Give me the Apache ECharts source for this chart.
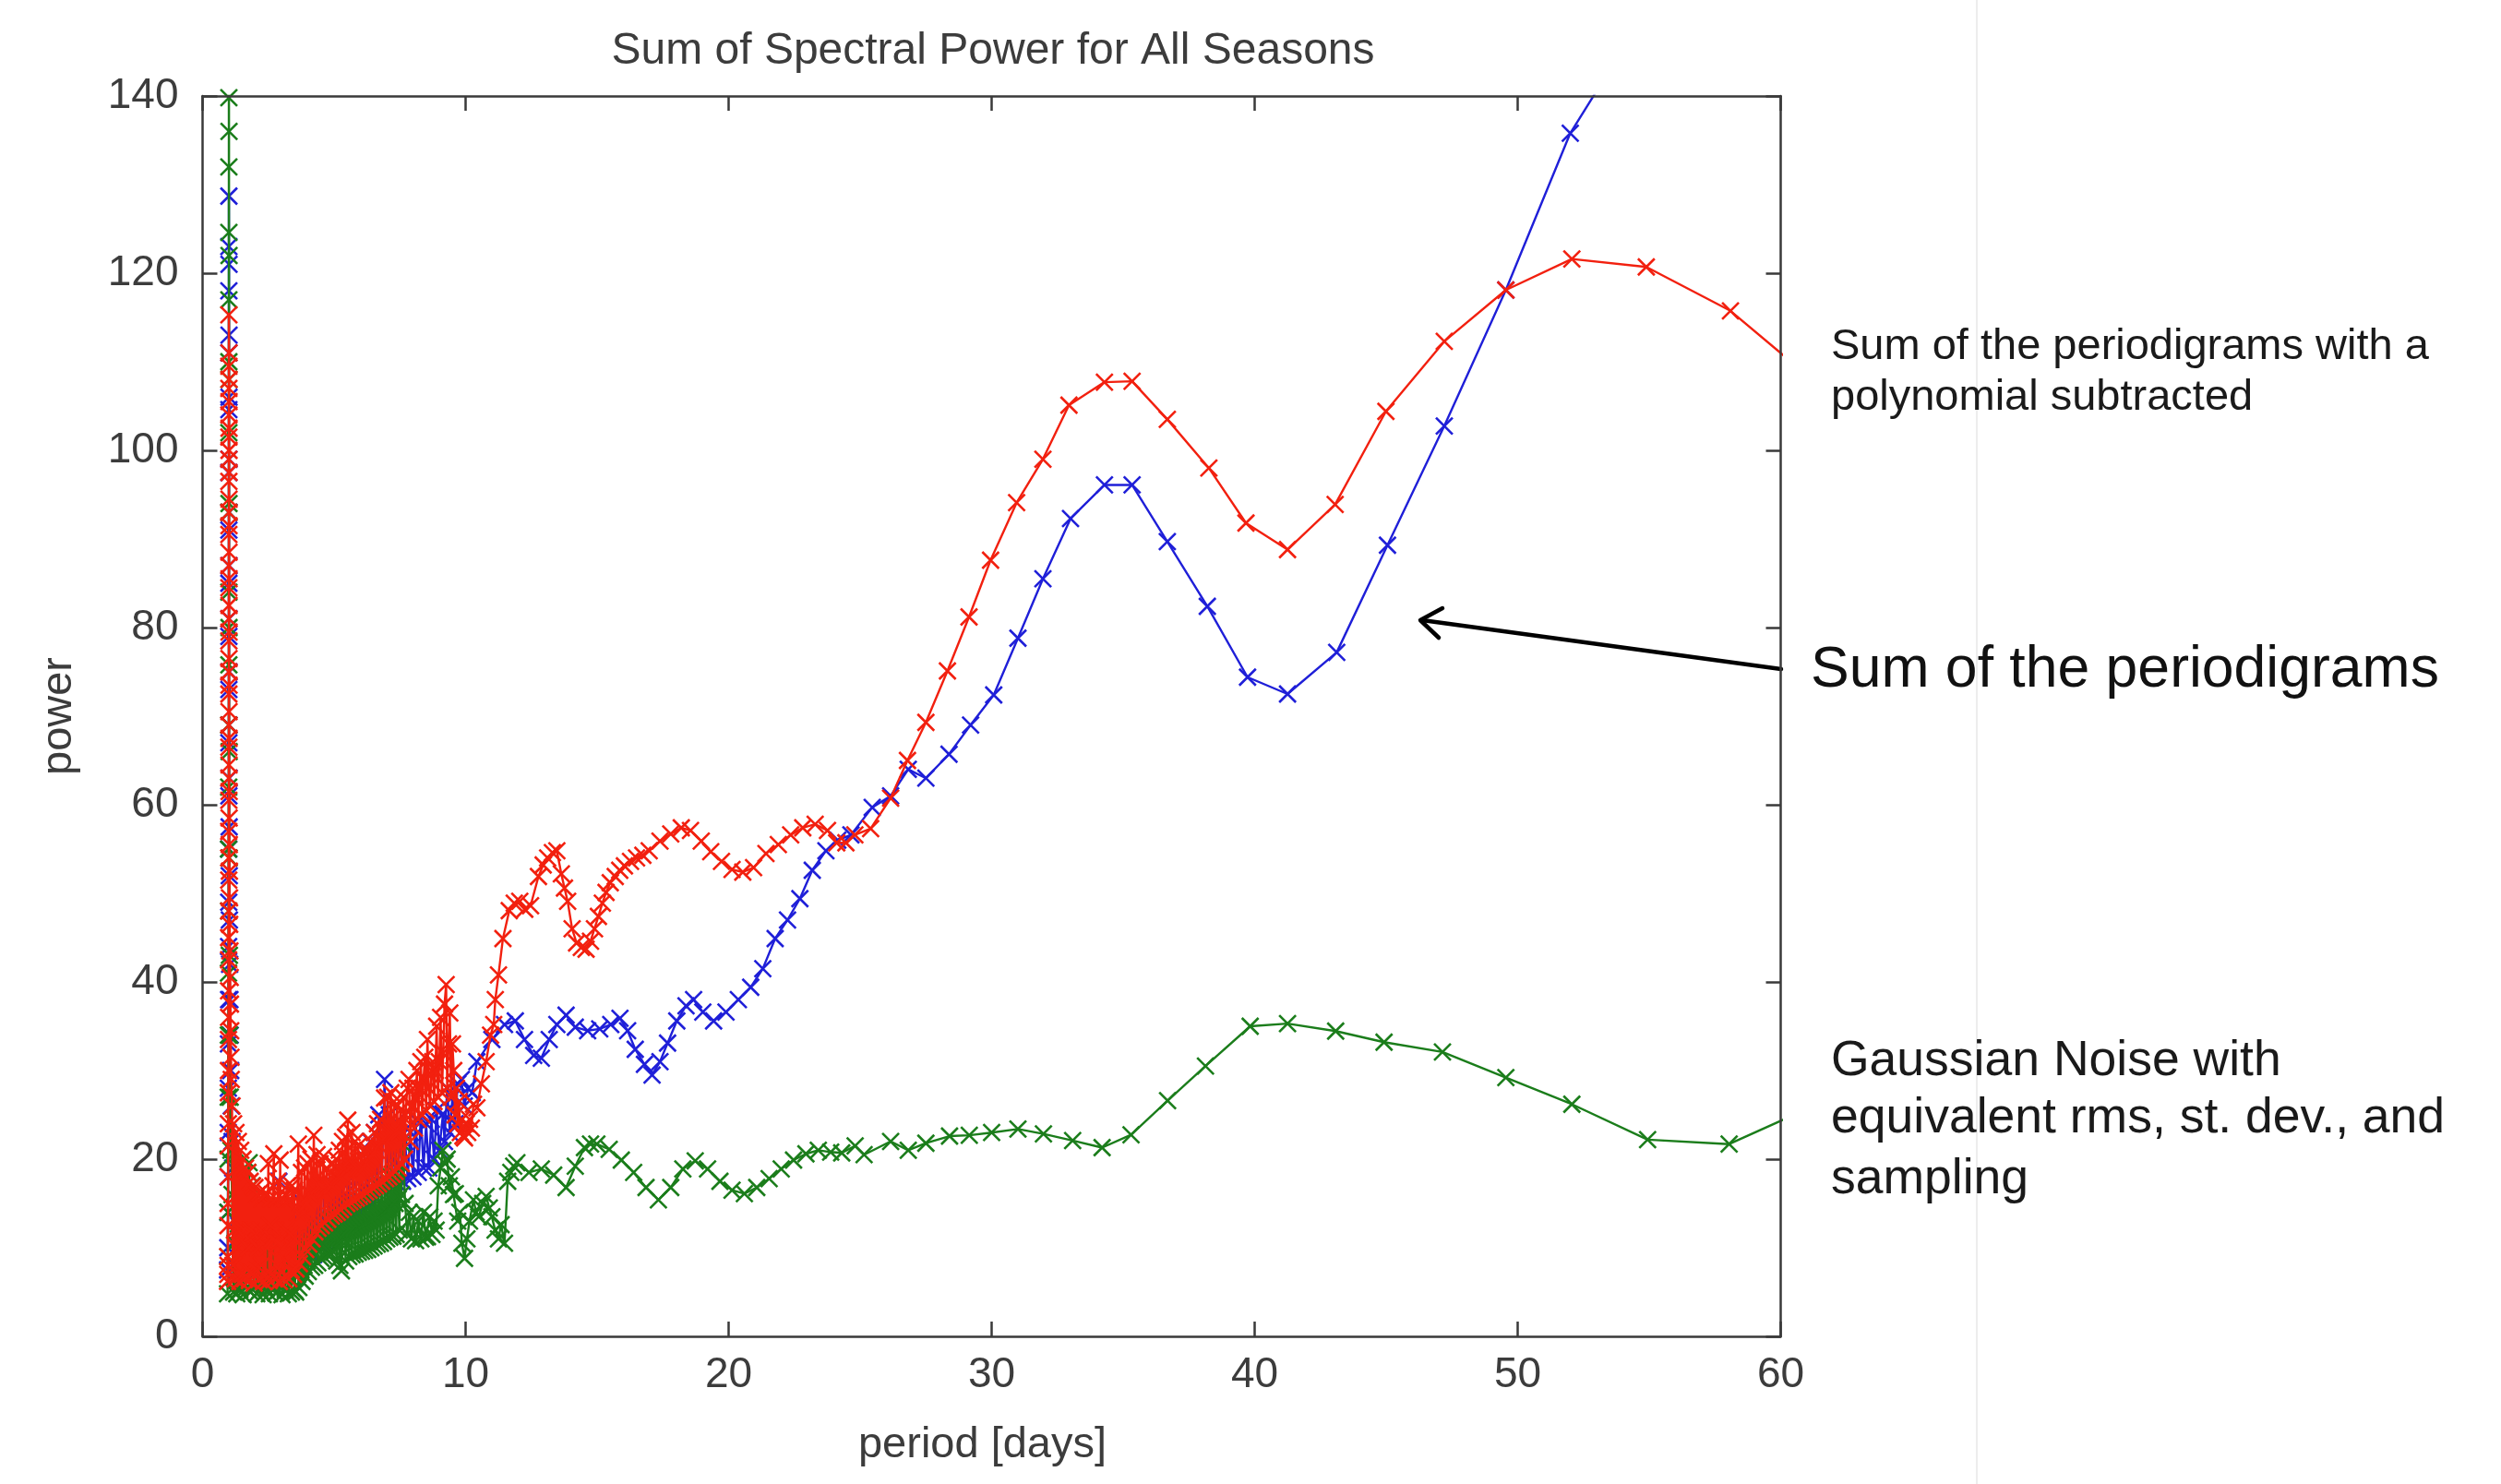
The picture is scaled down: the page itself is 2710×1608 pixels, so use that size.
<!DOCTYPE html>
<html>
<head>
<meta charset="utf-8">
<script src="https://cdn.jsdelivr.net/npm/echarts@6/dist/echarts.min.js"></script>
<style>
html,body{margin:0;padding:0;background:#fff;}
#chart{width:2710px;height:1608px;}
</style>
</head>
<body>
<div id="chart"></div>
<script>
// ---- data: [period (days), power] ----
const titleText = "Sum of Spectral Power for All Seasons";
const xTicks = [0, 10, 20, 30, 40, 50, 60];
const yTicks = [0, 20, 40, 60, 80, 100, 120, 140];

// Sum of the periodigrams with a polynomial subtracted (red)
const redPoints = [
[0.95,6.2],[0.955,9],[0.96,7],[0.965,12.5],[0.97,8],[0.97,15],[0.975,18],[0.975,21.5],[0.98,24],[0.98,27.5],[0.985,30],[0.985,33.5],[0.99,36],[0.99,39],[0.99,42.5],[0.99,45],[0.995,48],[0.995,51.5],[0.995,54],[0.995,57],
[1.0,60.5],[1.0,63],[1.0,66.5],[1.0,69],[1.0,72.5],[1.0,75],[1.0,78.5],[1.0,81],[1.0,84.5],[1.0,87],[1.0,90.5],[1.0,93],[1.0,96.5],[1.0,99],[1.0,101.5],[1.0,104],[1.0,107],[1.0,109.5],[1.0,115.3],
[1.005,111],[1.005,108],[1.005,105.5],[1.005,102.5],[1.005,100],[1.005,97.5],[1.005,94.5],[1.005,91.5],[1.005,88.5],[1.005,85.5],[1.005,82.5],[1.005,79.5],[1.005,76.5],[1.005,73.5],[1.005,70.5],[1.005,67.5],[1.005,64.5],[1.01,61.5],[1.01,58.5],[1.015,55.5],[1.02,52.5],[1.025,49.5],[1.03,46.5],[1.04,43.5],[1.05,40.5],[1.06,37.5],[1.07,34.5],[1.08,31.5],[1.09,29],
[1.12,26],[1.15,8],[1.18,24],[1.21,12],[1.24,6.5],[1.27,23],[1.3,10],[1.33,7],[1.36,22],[1.39,12],[1.42,6.2],[1.45,21],[1.48,10.5],[1.51,7],[1.54,20],[1.57,12],[1.6,6.5],[1.63,19],[1.66,11],[1.69,7.5],[1.72,18.5],[1.75,10],[1.78,6.3],[1.81,17.5],[1.84,12],[1.87,7.2],[1.9,17],[1.93,10.5],[1.96,6],[1.99,16.8],
[2.02,11.5],[2.05,7.5],[2.08,16],[2.11,10],[2.14,6.4],[2.17,16.2],[2.2,12],[2.23,8],[2.26,15.5],[2.29,10.5],[2.32,6.2],[2.35,16],[2.38,11.5],[2.41,7],[2.44,16.1],[2.47,10],[2.5,19.5],[2.53,6.3],[2.56,12.5],[2.59,15.5],[2.62,7],[2.65,11],[2.68,17],[2.71,20.6],[2.74,6.5],[2.77,12],[2.8,15.5],[2.83,8],[2.86,17.5],[2.89,10.5],[2.92,6.2],[2.95,19.9],[2.98,11],
[3.01,7.2],[3.04,15.5],[3.07,10],[3.1,6.4],[3.13,16],[3.16,12],[3.19,8.5],[3.22,17],[3.25,10.5],[3.28,6.5],[3.31,15.5],[3.34,11.5],[3.37,7.5],[3.4,17],[3.43,10],[3.46,7],[3.49,16.5],[3.52,11],[3.55,7.6],
[3.6,14],[3.64,21.7],[3.68,8.2],[3.72,15],[3.76,18.5],[3.8,9],[3.84,14],[3.88,19],[3.92,9.8],[3.96,15],[4.0,19.5],[4.04,10.4],[4.08,16],[4.12,20],[4.16,11],[4.2,17],[4.23,22.7],[4.27,11.8],[4.31,16.5],[4.35,20.5],[4.39,12.2],[4.43,17],[4.47,19.5],[4.51,12.5],[4.55,17],[4.6,20.3],[4.64,12.8],[4.68,16.5],[4.72,19],[4.76,13.2],[4.8,17],[4.84,18.5],[4.88,13.6],[4.92,17],[4.96,19.5],
[5.0,13.8],[5.04,17.5],[5.08,20],[5.12,14],[5.16,18],[5.2,21],[5.24,14.3],[5.28,18],[5.32,22],[5.36,14.6],[5.4,19],[5.44,22.5],[5.48,15],[5.52,24.4],[5.56,19],[5.6,15.2],[5.64,20],[5.68,23],[5.72,15.4],[5.76,19.5],[5.8,22],[5.84,15.6],[5.88,19],[5.92,21.5],[5.96,15.8],
[6.0,19],[6.04,20.5],[6.08,16],[6.12,19],[6.16,21],[6.2,16.3],[6.24,19.5],[6.28,21],[6.33,16.5],[6.37,20],[6.41,22],[6.45,16.8],[6.49,20.5],[6.53,23],[6.57,17],[6.61,21],[6.65,24],[6.69,17.2],[6.73,21.5],[6.77,24.5],[6.81,17.5],[6.85,22],[6.92,26.9],[6.96,17.8],
[7.0,22.5],[7.04,27],[7.08,18],[7.12,23],[7.16,27.5],[7.2,18.3],[7.24,23],[7.28,26.5],[7.32,18.6],[7.36,23],[7.4,26],[7.44,19],[7.48,23],[7.52,25.5],[7.56,19.5],[7.6,24],[7.64,27],[7.68,20],[7.72,25],[7.78,28],[7.85,29],[7.9,22],[7.95,26],
[8.0,28],[8.05,23.5],[8.1,27],[8.15,30],[8.2,24.5],[8.25,28],[8.3,31],[8.35,25],[8.4,29],[8.45,31.5],[8.5,25.5],[8.55,33.5],[8.6,28],[8.65,26],[8.7,30],[8.75,31],[8.8,26.5],[8.85,30],[8.9,35],[8.95,27],
[9.0,31],[9.05,36],[9.1,27.5],[9.15,32],[9.2,37.5],[9.26,39.7],[9.3,28],[9.35,33],[9.4,36.5],[9.45,27],[9.5,33],[9.55,30],[9.6,25],[9.65,28],[9.7,24],[9.75,26.5],[9.8,23],[9.85,24.5],[9.9,22.6],[9.96,22.4],
[10.02,24],[10.08,23],[10.15,24.5],[10.22,23.5],[10.3,26.2],[10.43,25.8],[10.6,28.5],[10.78,31],[10.95,34],[11.07,35.2],[11.13,38],[11.25,40.8],[11.42,44.9],[11.66,48.05],[11.85,48.9],[12.06,49.1],[12.25,48.2],[12.47,48.6],[12.77,51.9],[12.95,53.2],[13.12,54.0],[13.3,54.6],[13.47,54.8],[13.64,52.2],[13.76,50.6],[13.88,49.1],[14.05,46.0],[14.22,44.4],[14.4,43.9],[14.58,43.7],[14.75,44.6],[14.9,46],
[15.05,47.4],[15.2,48.9],[15.34,50.1],[15.5,51.2],[15.69,51.9],[15.86,52.6],[16.04,53.1],[16.27,53.6],[16.5,54.0],[16.74,54.3],[16.98,54.8],[17.39,55.9],[17.8,56.7],[18.2,57.4],[18.55,57.1],[18.96,55.9],[19.32,54.7],[19.73,53.6],[20.13,52.7],[20.54,52.4],[20.95,52.9],[21.42,54.5],[21.89,55.5],[22.36,56.6],[22.82,57.4],[23.29,57.8],[23.76,57.1],[24.11,55.7],[24.46,55.7],[24.8,56.6],
[25.4,57.3],[26.16,60.75],[26.8,65.0],[27.5,69.3],[28.32,75.1],[29.14,81.2],[29.96,87.6],[30.95,94.1],[31.95,99.0],[32.94,105.1],[34.29,107.7],[35.34,107.8],[36.68,103.5],[38.26,98.0],[39.67,91.8],[41.25,88.8],[43.06,93.9],[44.99,104.4],[47.21,112.3],[49.55,118.1],[52.06,121.6],[54.89,120.7],[58.09,115.75],[61.4,107.5]
];

// Sum of the periodigrams (blue)
const bluePoints = [
[0.95,7.5],[0.96,10],[0.965,14],[0.97,18],[0.975,23],[0.98,28],[0.985,33],[0.99,38],[0.99,44],[0.995,49],[0.995,55],[1.0,61],[1.0,67],[1.0,73],[1.0,79],[1.0,85],[1.0,91],[1.0,97.5],[1.0,104.6],[1.0,111],[1.0,118],[1.0,123],[1.0,128.7],
[1.005,121],[1.005,113],[1.005,106],[1.005,99],[1.005,93],[1.005,87],[1.005,81],[1.005,75],[1.005,69],[1.01,63],[1.01,57.5],[1.015,52],[1.02,47],[1.03,42],[1.04,38],[1.05,34],[1.07,30],[1.09,26],[1.12,22],[1.15,19],
[1.2,8],[1.26,13],[1.32,7.5],[1.38,12.5],[1.44,8.2],[1.5,13],[1.56,7.4],[1.62,12.5],[1.68,8.5],[1.74,13],[1.8,7.6],[1.86,12.2],[1.92,8],[1.98,12.6],[2.04,7.3],[2.1,13],[2.16,8.4],[2.22,12.2],[2.28,7.7],[2.34,13],[2.4,8.1],[2.46,12.5],[2.52,7.5],[2.58,12.8],[2.64,8.6],[2.7,13],[2.76,7.9],[2.82,13.5],[2.9,17.5],[2.96,8.4],[3.02,12.5],[3.08,8],[3.14,13],[3.2,8.7],[3.26,12],[3.32,8.2],[3.38,13.5],[3.44,8.8],[3.5,13.2],
[3.58,8.5],[3.66,13.8],[3.74,8.8],[3.82,15],[3.9,9],[3.98,14.5],[4.06,9.4],[4.14,16],[4.22,9.2],[4.3,16.8],[4.38,9.8],[4.46,17],[4.54,10.2],[4.62,15.8],[4.7,10.5],[4.78,16.5],[4.86,10.8],[4.94,17],[5.02,11],[5.1,16.6],[5.18,13.7],[5.26,17.5],[5.34,12],[5.42,16],[5.5,12.5],[5.58,18],[5.66,13],[5.74,17],[5.82,13.5],[5.9,15.4],[5.98,14],
[6.06,19],[6.14,14.2],[6.22,20],[6.3,14.6],[6.38,22],[6.46,15.2],[6.54,23],[6.62,15.5],[6.7,25],[6.8,16.5],[6.92,29],[7.0,16.8],[7.1,25],[7.2,17],[7.3,24],[7.4,17.3],[7.5,22.5],[7.6,17.5],[7.7,22],[7.8,17.8],[7.9,23],
[8.0,18],[8.1,24.5],[8.2,18.5],[8.3,25],[8.4,19],[8.5,24],[8.6,19],[8.7,24.5],[8.8,20],[8.9,25.5],[9.0,21],[9.14,25.1],[9.2,22],[9.3,28],[9.4,23],[9.5,27],[9.6,24],[9.7,28.5],[9.84,29],[9.95,26],[10.1,28],[10.25,27.5],
[10.43,31.0],[11.0,33.5],[11.48,35.2],[11.89,35.6],[12.24,33.5],[12.59,31.7],[12.88,31.4],[13.18,33.5],[13.47,35.2],[13.82,36.25],[14.17,34.9],[14.64,34.5],[15.1,34.7],[15.52,35.2],[15.87,35.9],[16.16,34.5],[16.45,32.4],[16.8,30.7],[17.09,29.5],[17.39,31.0],[17.68,33.1],[18.03,35.6],[18.38,37.3],[18.67,38.0],[19.02,36.6],[19.43,35.6],[19.9,36.6],
[20.37,38.0],[20.84,39.4],[21.3,41.5],[21.77,44.9],[22.24,47.0],[22.71,49.4],[23.18,52.6],[23.7,54.8],[24.15,56.0],[24.65,56.6],[25.46,59.7],[26.16,61.0],[26.83,64.0],[27.5,63.0],[28.38,65.7],[29.2,69.0],[30.08,72.4],[31.0,78.8],[31.95,85.5],[33.0,92.3],[34.29,96.1],[35.34,96.1],[36.68,89.7],[38.2,82.4],[39.73,74.4],[41.25,72.5],[43.12,77.2],[45.05,89.3],[47.21,102.75],[49.55,118.1],[52.0,135.8],[54.9,149.6]
];

// Gaussian noise with equivalent rms, st. dev., and sampling (green)
const greenPoints = [
[0.95,4.8],[0.96,9],[0.965,14],[0.97,20],[0.975,27],[0.98,34],[0.985,41],[0.99,48],[0.99,55],[0.995,62],[0.995,69],[1.0,75.8],[1.0,84],[1.0,93],[1.0,102],[1.0,110],[1.0,117],[1.0,124.6],[1.0,132],[1.0,139.8],[1.0,147],
[1.005,136],[1.005,122],[1.005,108],[1.005,94],[1.005,80],[1.01,66],[1.01,54],[1.02,43],[1.03,34],[1.05,27],[1.08,21],[1.12,16],
[1.18,5],[1.24,10.5],[1.3,4.8],[1.36,11],[1.42,5.3],[1.48,10.5],[1.54,4.7],[1.6,12],[1.66,5.5],[1.72,18.5],[1.77,19.6],[1.82,5],[1.88,17],[1.94,5.6],[2.0,11],[2.06,4.8],[2.12,10.5],[2.18,5.2],[2.24,10],[2.3,4.7],[2.36,10.5],[2.42,5.4],[2.48,10],[2.54,4.8],[2.6,10.5],[2.66,5.5],[2.72,10],[2.78,4.9],[2.84,10.5],[2.9,5.2],[2.96,10],[3.02,4.7],[3.08,10.2],[3.14,5.3],[3.2,9.8],[3.26,4.8],[3.32,9.5],[3.38,5],[3.44,9.5],[3.5,5.2],
[3.54,5],[3.58,9.5],[3.62,7],[3.66,5.5],[3.7,10],[3.74,7.5],[3.78,6.2],[3.82,10.5],[3.86,8],[3.9,6.8],[3.94,11],[3.98,8.5],[4.02,7.3],[4.06,11.2],[4.1,9],[4.14,7.8],[4.18,11.5],[4.22,9.5],[4.26,8],[4.3,12],[4.34,10],[4.38,8.3],[4.42,12.2],[4.46,10.2],[4.5,8.8],[4.54,12.5],[4.58,10.5],[4.62,9],[4.66,12.8],[4.7,11],[4.74,9.2],[4.78,13],[4.82,11.2],[4.86,9.4],[4.9,13.2],[4.94,11.3],[4.98,9.5],
[5.02,13.4],[5.06,11],[5.1,8.5],[5.14,13.5],[5.18,11],[5.22,8],[5.26,13.8],[5.28,7.4],[5.32,11],[5.36,14],[5.4,11.5],[5.44,8.5],[5.48,14.2],[5.52,12],[5.56,9],[5.6,14.4],[5.64,12],[5.68,9.2],[5.72,14.6],[5.76,12.2],[5.8,9.3],[5.84,15],[5.88,12.3],[5.92,9.5],[5.96,15.2],
[6.0,12.5],[6.04,9.6],[6.08,15.4],[6.12,12.7],[6.16,9.7],[6.2,15.6],[6.24,13],[6.28,9.8],[6.32,16],[6.36,13.2],[6.4,10],[6.44,16.2],[6.48,13.4],[6.52,10.2],[6.56,16.5],[6.6,13.6],[6.64,10.4],[6.68,16.8],[6.72,13.8],[6.76,10.5],[6.8,17],[6.84,14],[6.88,10.7],[6.92,17.3],[6.96,14.2],
[7.0,11],[7.04,17.6],[7.08,14.5],[7.12,11.2],[7.16,18],[7.2,14.8],[7.24,11.3],[7.28,18.5],[7.32,15],[7.36,11.5],[7.4,19],[7.44,15.5],[7.48,12],[7.52,19.5],[7.56,16],[7.62,21.7],
[7.7,15],[7.78,11.6],[7.86,14],[7.94,11],[8.02,13.5],[8.1,10.8],[8.2,13],[8.3,11],[8.4,14],[8.48,11.2],[8.55,11.25],[8.64,13.5],[8.72,11.5],[8.8,13],[8.88,12],[8.96,17],[9.05,19],[9.14,21.0],[9.22,19.5],[9.3,20],[9.38,17],[9.46,18],[9.54,16],[9.61,16.1],[9.7,13],[9.78,14],[9.86,10.5],[9.96,8.8],
[10.05,11],[10.15,13],[10.3,15.4],[10.4,14],[10.5,13.5],[10.65,15],[10.78,15.8],[10.9,14.5],[11.0,13.5],[11.12,12],[11.25,11],[11.35,12.6],[11.48,10.5],[11.6,17.5],[11.72,18.5],[11.83,19.2],[11.95,19.6],
[12.41,18.5],[12.88,18.9],[13.35,18.2],[13.82,16.8],[14.17,19.2],[14.52,21.3],[14.75,21.7],[14.99,21.7],[15.46,21.1],[15.92,19.9],[16.39,18.5],[16.86,16.8],[17.33,15.4],[17.8,16.8],[18.26,18.9],[18.73,19.8],[19.2,18.9],[19.67,17.5],[20.13,16.5],[20.6,16.1],[21.07,16.8],[21.54,17.8],[22.0,18.9],[22.47,19.9],[22.94,20.6],[23.41,21.0],[23.88,20.8],[24.3,20.7],[24.81,21.5],
[25.15,20.5],[26.16,22.0],[26.83,21.0],[27.5,21.8],[28.4,22.6],[29.15,22.7],[30.0,23.0],[31.0,23.4],[31.97,22.85],[33.08,22.1],[34.2,21.3],[35.3,22.75],[36.69,26.6],[38.13,30.5],[39.83,35.0],[41.25,35.3],[43.08,34.45],[44.92,33.2],[47.14,32.1],[49.55,29.2],[52.06,26.2],[54.94,22.2],[58.04,21.7],[61.4,26.2]
];

const seriesNames = ["Sum of the periodigrams", "Gaussian Noise with equivalent rms, st. dev., and sampling", "Sum of the periodigrams with a polynomial subtracted"];
const seriesColors = ["#1f1fd8", "#1b7d1b", "#f2200f"];

// ---- chart ----
const FONT = "'Liberation Sans', Arial, Helvetica, sans-serif";
const AXC = "#3a3a3a";
const crossSym = 'path://M0,0L10,10M0,10L10,0';

function mkSeries(name, pts, color, z) {
  return {
    name: name, type: 'line', data: pts, z: z,
    xAxisIndex: 0, yAxisIndex: 0,
    symbol: crossSym, symbolSize: 18, showSymbol: true, clip: true,
    lineStyle: { color: color, width: 2.4 },
    itemStyle: { color: color, borderColor: color, borderWidth: 2.6 },
    emphasis: { disabled: true }, silent: true, animation: false
  };
}

const chart = echarts.init(document.getElementById('chart'), null, { renderer: 'canvas' });
const axisLineStyle = { show: true, onZero: false, lineStyle: { color: AXC, width: 2.5 } };
const tickStyle = { show: true, inside: true, length: 16, lineStyle: { color: AXC, width: 2.5 } };

chart.setOption({
  backgroundColor: '#ffffff',
  animation: false,
  title: {
    text: titleText, left: 1071, top: 51, textAlign: 'center', textVerticalAlign: 'middle',
    textStyle: { fontFamily: FONT, fontSize: 48, fontWeight: 'normal', color: '#3c3c3c' }
  },
  grid: { left: 219.5, right: 780.5, top: 104, bottom: 160, containLabel: false },
  xAxis: [
    { type: 'value', min: xTicks[0], max: xTicks[xTicks.length - 1], interval: 10, position: 'bottom', z: 10,
      axisLine: axisLineStyle, axisTick: tickStyle, splitLine: { show: false },
      axisLabel: { fontFamily: FONT, fontSize: 46, color: '#3c3c3c', margin: 19 },
      name: 'period [days]', nameLocation: 'middle', nameGap: 95,
      nameTextStyle: { fontFamily: FONT, fontSize: 47, color: '#3c3c3c', padding: [0, 20, 0, 0] } },
    { type: 'value', min: xTicks[0], max: xTicks[xTicks.length - 1], interval: 10, position: 'top', z: 10,
      axisLine: axisLineStyle, axisTick: tickStyle, splitLine: { show: false }, axisLabel: { show: false } }
  ],
  yAxis: [
    { type: 'value', min: yTicks[0], max: yTicks[yTicks.length - 1], interval: 20, position: 'left', z: 10,
      axisLine: axisLineStyle, axisTick: tickStyle, splitLine: { show: false },
      axisLabel: { fontFamily: FONT, fontSize: 46, color: '#3c3c3c', margin: 26 },
      name: 'power', nameLocation: 'middle', nameGap: 132, nameRotate: 90,
      nameTextStyle: { fontFamily: FONT, fontSize: 47, color: '#3c3c3c' } },
    { type: 'value', min: yTicks[0], max: yTicks[yTicks.length - 1], interval: 20, position: 'right', z: 10,
      axisLine: axisLineStyle, axisTick: tickStyle, splitLine: { show: false }, axisLabel: { show: false } }
  ],
  series: [
    mkSeries(seriesNames[0], bluePoints, seriesColors[0], 3),
    mkSeries(seriesNames[1], greenPoints, seriesColors[1], 4),
    mkSeries(seriesNames[2], redPoints, seriesColors[2], 5)
  ],
  graphic: [
    { type: 'line', silent: true, shape: { x1: 2142, y1: 0, x2: 2142, y2: 1608 }, style: { stroke: '#ededed', lineWidth: 2 } },
    { type: 'text', silent: true, x: 1984, y: 376, style: { text: 'Sum of the periodigrams with a', font: '47px ' + FONT, fill: '#1a1a1a', textAlign: 'left', textVerticalAlign: 'middle', align: 'left', verticalAlign: 'middle' } },
    { type: 'text', silent: true, x: 1984, y: 431, style: { text: 'polynomial subtracted', font: '47px ' + FONT, fill: '#1a1a1a', textAlign: 'left', textVerticalAlign: 'middle', align: 'left', verticalAlign: 'middle' } },
    { type: 'text', silent: true, x: 1962, y: 727, style: { text: 'Sum of the periodigrams', font: '62.5px ' + FONT, fill: '#111111', textAlign: 'left', textVerticalAlign: 'middle', align: 'left', verticalAlign: 'middle' } },
    { type: 'text', silent: true, x: 1984, y: 1150, style: { text: 'Gaussian Noise with', font: '53.5px ' + FONT, fill: '#1a1a1a', textAlign: 'left', textVerticalAlign: 'middle', align: 'left', verticalAlign: 'middle' } },
    { type: 'text', silent: true, x: 1984, y: 1212, style: { text: 'equivalent rms, st. dev., and', font: '53.5px ' + FONT, fill: '#1a1a1a', textAlign: 'left', textVerticalAlign: 'middle', align: 'left', verticalAlign: 'middle' } },
    { type: 'text', silent: true, x: 1984, y: 1278, style: { text: 'sampling', font: '53.5px ' + FONT, fill: '#1a1a1a', textAlign: 'left', textVerticalAlign: 'middle', align: 'left', verticalAlign: 'middle' } },
    { type: 'line', silent: true, shape: { x1: 1930, y1: 725, x2: 1541, y2: 672 }, style: { stroke: '#000', lineWidth: 4.5, lineCap: 'round' } },
    { type: 'polyline', silent: true, shape: { points: [[1563, 659], [1539, 672], [1559, 691]] }, style: { stroke: '#000', lineWidth: 4.5, fill: null, lineCap: 'round', lineJoin: 'round' } }
  ]
});
</script>
</body>
</html>
